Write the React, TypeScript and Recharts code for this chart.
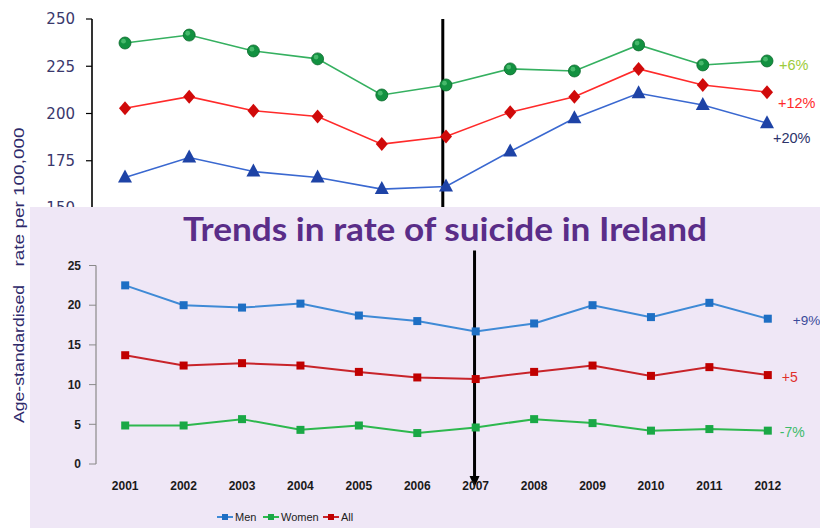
import React from 'react';
import { LineChart, Line, XAxis, YAxis, ReferenceLine, Customized, Legend } from 'recharts';

// ---------- top (background) chart ----------
const topIndex = [0, 1, 2, 3, 4, 5, 6, 7, 8, 9, 10];
const topGreen = [237.3, 241.5, 233.1, 228.9, 209.8, 215.1, 223.6, 222.5, 236.3, 225.7, 227.8];
const topRed = [202.8, 208.9, 201.5, 198.4, 183.8, 187.8, 200.7, 208.9, 223.6, 215.1, 211.3];
const topBlue = [166.1, 176.7, 169.3, 166.1, 160.0, 161.4, 179.9, 197.5, 210.7, 204.5, 194.9];
const topYTicks = [150, 175, 200, 225, 250];
const topEndLabels = ['+6%', '+12%', '+20%'];
const topMarkerIndex = 4.95;

// ---------- bottom (front) chart ----------
const years = ['2001', '2002', '2003', '2004', '2005', '2006', '2007', '2008', '2009', '2010', '2011', '2012'];
const men = [22.5, 20.0, 19.7, 20.2, 18.7, 18.0, 16.7, 17.7, 20.0, 18.5, 20.3, 18.3];
const women = [4.85, 4.85, 5.65, 4.3, 4.85, 3.9, 4.6, 5.65, 5.15, 4.2, 4.4, 4.2];
const all = [13.7, 12.4, 12.7, 12.4, 11.6, 10.9, 10.7, 11.6, 12.4, 11.1, 12.2, 11.2];
const bottomYTicks = [0, 5, 10, 15, 20, 25];
const boundaryTicks = [0, 1, 2, 3, 4, 5, 6, 7, 8, 9, 10, 11, 12];
const bottomEndLabels = ['+9%', '-7%', '+5'];
const bottomMarkerPos = 5.94;
const titleText = 'Trends in rate of suicide in Ireland';
const yLabelParts = ['Age-standardised', 'rate per 100,000'];

const topData = topIndex.map((i, k) => ({ i, green: topGreen[k], red: topRed[k], blue: topBlue[k] }));
const bottomData = years.map((y, k) => ({ year: y, men: men[k], women: women[k], all: all[k] }));

const C = {
  greenLine: '#35B060', greenDot: '#129140',
  redLine: '#FF2A2A', redDot: '#D00A0A',
  blueLine: '#3A68D0', blueDot: '#1E43A6',
  men: '#3F8AD6', menDot: '#1E6FC4',
  women: '#2DB84E', womenDot: '#1AA846',
  all: '#C8242A', allDot: '#C00000',
  panel: '#EFE7F6',
};

const CircleDot = (p: any) => (
  <g key={`c${p.index}`}>
    <circle cx={p.cx} cy={p.cy} r={6} fill={C.greenDot} stroke="#0B6A2C" strokeWidth={0.8} />
    <circle cx={p.cx - 1.5} cy={p.cy - 1.8} r={2.4} fill="#5CCB7E" opacity={0.7} />
  </g>
);
const DiamondDot = (p: any) => (
  <polygon key={`d${p.index}`} points={`${p.cx},${p.cy - 7} ${p.cx + 6},${p.cy} ${p.cx},${p.cy + 7} ${p.cx - 6},${p.cy}`} fill={C.redDot} />
);
const TriangleDot = (p: any) => (
  <polygon key={`t${p.index}`} points={`${p.cx},${p.cy - 8} ${p.cx + 7},${p.cy + 5} ${p.cx - 7},${p.cy + 5}`} fill={C.blueDot} />
);
const squareDot = (color: string) => (p: any) => (
  <rect key={`s${p.index}`} x={p.cx - 4} y={p.cy - 4} width={8} height={8} fill={color} />
);

const endLabel = (text: string, color: string, dx: number, dy: number, last: number, size = 14.5) => (p: any) => {
  if (p.index !== last) return <g key={`l${p.index}`} />;
  return (
    <text key={`l${p.index}`} x={p.x + dx} y={p.y + dy} fill={color} fontSize={size} fontFamily="Liberation Sans, Arial, sans-serif">
      {text}
    </text>
  );
};

const ArrowShape = (p: any) => {
  const x = p.x1;
  const yTop = Math.min(p.y1, p.y2) - 15;
  const yBot = Math.max(p.y1, p.y2) + 13;
  return (
    <g>
      <line x1={x} x2={x} y1={yTop} y2={yBot} stroke="#000" strokeWidth={3} />
      <polygon points={`${x - 5},${yBot - 1} ${x + 5},${yBot - 1} ${x},${yBot + 10}`} fill="#000" />
    </g>
  );
};

const YLabel = () => (
  <g fontFamily="Liberation Sans, Arial, sans-serif" fontSize={15} fill="#2E2A6A">
    <text transform="translate(24,354) rotate(-90)" textAnchor="middle" textLength={138} lengthAdjust="spacingAndGlyphs">{yLabelParts[0]}</text>
    <text transform="translate(24,197) rotate(-90)" textAnchor="middle" textLength={139} lengthAdjust="spacingAndGlyphs">{yLabelParts[1]}</text>
  </g>
);

const Title = () => (
  <text x={445} y={241} textAnchor="middle" fontFamily="Lato, sans-serif" fontWeight={700} fontSize={32} fill="#5A2D88" textLength={524} lengthAdjust="spacingAndGlyphs">
    {titleText}
  </text>
);

const legendItems = [
  { name: 'Men', color: C.men, dot: C.menDot, left: 0 },
  { name: 'Women', color: C.women, dot: C.womenDot, left: 46 },
  { name: 'All', color: C.all, dot: C.allDot, left: 106 },
];

const LegendContent = () => (
  <div style={{ position: 'relative', width: 160, height: 16 }}>
    {legendItems.map((it) => (
      <div key={it.name} style={{ position: 'absolute', left: it.left, top: 0, display: 'flex', alignItems: 'center', height: 16 }}>
        <svg width={16} height={10}>
          <line x1={0} x2={16} y1={5} y2={5} stroke={it.color} strokeWidth={2} />
          <rect x={5} y={2} width={6} height={6} fill={it.dot} />
        </svg>
        <span style={{ marginLeft: 2, fontFamily: 'Liberation Sans, Arial, sans-serif', fontSize: 11, color: '#222' }}>{it.name}</span>
      </div>
    ))}
  </div>
);

export default function App() {
  return (
    <div style={{ position: 'absolute', left: 0, top: 0, width: 820, height: 528, background: '#fff', overflow: 'hidden' }}>
      <div style={{ position: 'absolute', left: 0, top: 0 }}>
        <LineChart width={820} height={528} data={topData} margin={{ top: 19, right: 33, bottom: 320, left: 0 }}>
          <XAxis type="number" dataKey="i" domain={[0, 10]} hide padding={{ left: 33, right: 20 }} />
          <YAxis
            width={92}
            domain={[150, 250]}
            ticks={topYTicks}
            axisLine={{ stroke: '#000', strokeWidth: 1.6 }}
            tickLine={{ stroke: '#000', strokeWidth: 1.2 }}
            tickSize={6}
            tickMargin={11}
            tick={{ fontSize: 15, fill: '#3A386C', fontFamily: 'DejaVu Sans, sans-serif' }}
          />
          <ReferenceLine x={topMarkerIndex} stroke="#000" strokeWidth={3} ifOverflow="visible" />
          <Line dataKey="green" stroke={C.greenLine} strokeWidth={1.6} dot={CircleDot} isAnimationActive={false}
            label={endLabel(topEndLabels[0], '#9CCB3A', 12, 9, 10)} />
          <Line dataKey="red" stroke={C.redLine} strokeWidth={1.6} dot={DiamondDot} isAnimationActive={false}
            label={endLabel(topEndLabels[1], '#FF2A2A', 11, 16, 10)} />
          <Line dataKey="blue" stroke={C.blueLine} strokeWidth={1.6} dot={TriangleDot} isAnimationActive={false}
            label={endLabel(topEndLabels[2], '#2C336A', 6, 20, 10)} />
          <Customized component={YLabel} />
        </LineChart>
      </div>
      <div style={{ position: 'absolute', left: 30, top: 207, width: 790, height: 321, background: C.panel }} />
      <div style={{ position: 'absolute', left: 0, top: 0 }}>
        <LineChart width={820} height={528} data={bottomData} margin={{ top: 265.5, right: 23, bottom: 34, left: 0 }}>
          <XAxis xAxisId="b" type="number" domain={[0, 12]} ticks={boundaryTicks} height={0}
            axisLine={{ stroke: '#8A8A8A', strokeWidth: 1.2 }} tickLine={{ stroke: '#8A8A8A' }} tickSize={4} tick={false} />
          <XAxis dataKey="year" height={30} axisLine={false} tickLine={false} tickSize={6} tickMargin={11}
            padding={{ left: 29.2, right: 29.2 }}
            tick={{ fontSize: 12, fill: '#1A1A1A', fontFamily: 'Liberation Sans, Arial, sans-serif', fontWeight: 600 }} />
          <YAxis
            width={96}
            domain={[0, 25]}
            ticks={bottomYTicks}
            axisLine={{ stroke: '#8A8A8A', strokeWidth: 1.2 }}
            tickLine={{ stroke: '#8A8A8A' }}
            tickSize={7}
            tickMargin={8}
            tick={{ fontSize: 12, fill: '#1E1E1E', fontFamily: 'Liberation Sans, Arial, sans-serif', fontWeight: 600 }}
          />
          <Line dataKey="men" stroke={C.men} strokeWidth={2} dot={squareDot(C.menDot)} isAnimationActive={false}
            label={endLabel(bottomEndLabels[0], '#3A4A9A', 25, 6, 11, 13.5)} />
          <Line dataKey="women" stroke={C.women} strokeWidth={2} dot={squareDot(C.womenDot)} isAnimationActive={false}
            label={endLabel(bottomEndLabels[1], '#3DBB6A', 12, 6, 11, 14)} />
          <Line dataKey="all" stroke={C.all} strokeWidth={2} dot={squareDot(C.allDot)} isAnimationActive={false}
            label={endLabel(bottomEndLabels[2], '#E0302A', 14, 7, 11, 14)} />
          <ReferenceLine xAxisId="b" x={bottomMarkerPos} ifOverflow="visible" shape={ArrowShape} />
          <Customized component={Title} />
          <Legend layout="horizontal" verticalAlign="middle" align="center" content={LegendContent}
            wrapperStyle={{ position: 'absolute', left: 217, top: 509, width: 160, height: 16 }} />
        </LineChart>
      </div>
    </div>
  );
}
